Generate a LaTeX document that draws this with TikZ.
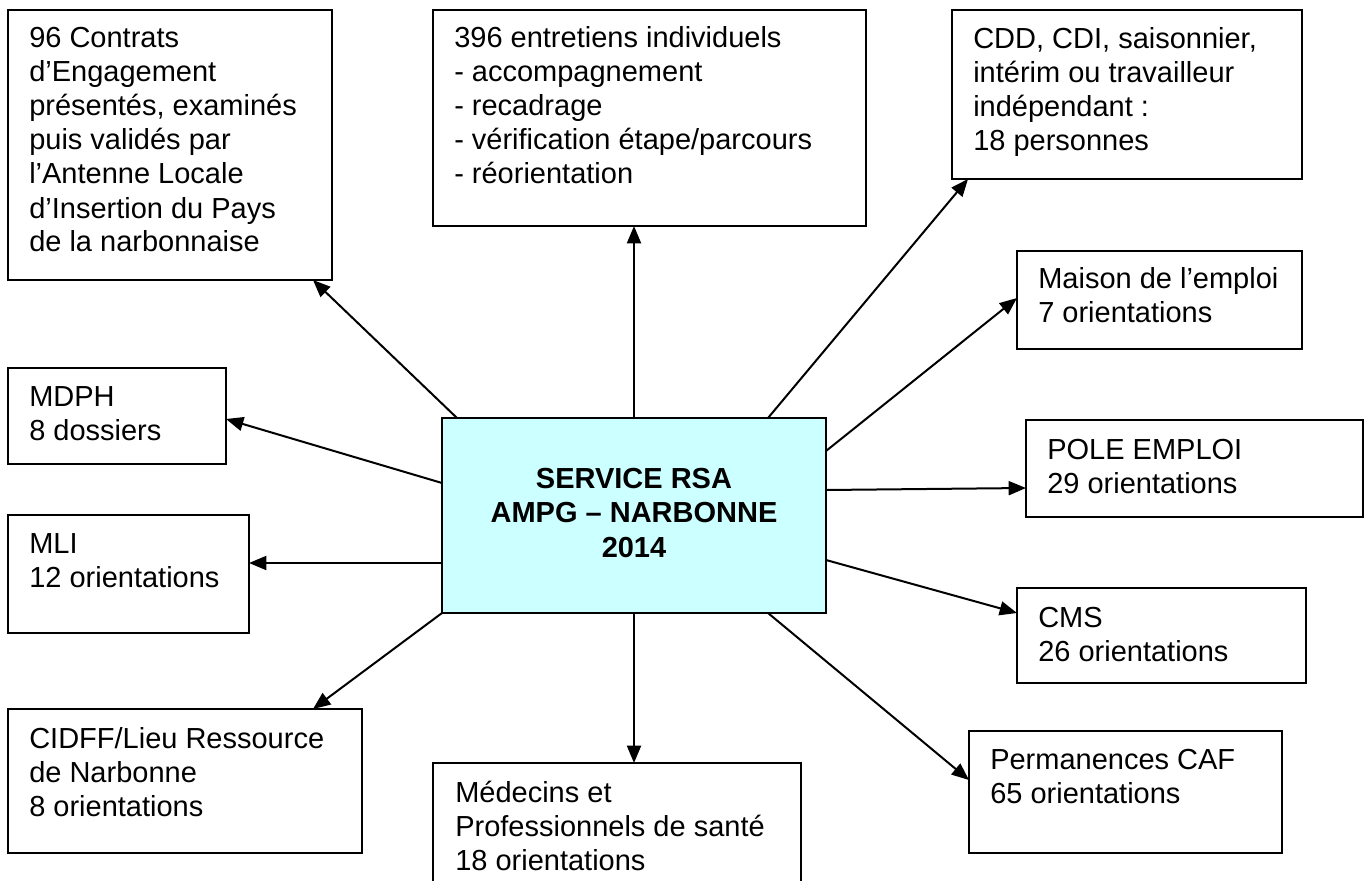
\documentclass[tikz,border=0pt]{standalone}
\usepackage{fontspec}
\setmainfont{Liberation Sans}
\usetikzlibrary{arrows.meta,fit,calc}
\definecolor{cyanbox}{HTML}{CCFFFF}
\begin{document}
\begin{tikzpicture}[x=0.75pt,y=-0.75pt,
  boxst/.style={draw=black, line width=0.9pt, inner sep=0pt, outer sep=0pt},
  txt/.style={font=\fontsize{21.75}{25.5}\selectfont, anchor=base west, inner sep=0pt},
  arr/.style={line width=1.5pt, -{Triangle[length=13pt,width=10.5pt]}}]
\fill[white] (0,0) rectangle (1370,881);
\useasboundingbox (0,0) rectangle (1370,881);

% boxes
\node[boxst, fit={(8,10) (332,280)}] (b1) {};
\node[txt] (t1) at (29,48) {\begin{tabular}[t]{@{}l@{}}96 Contrats\\d’Engagement\\présentés, examinés\\puis validés par\\l’Antenne Locale\\d’Insertion du Pays\\de la narbonnaise\end{tabular}};

\node[boxst, fit={(433,10) (866,226)}] (b2) {};
\node[txt] (t2) at (454,48) {\begin{tabular}[t]{@{}l@{}}396 entretiens individuels\\- accompagnement\\- recadrage\\- vérification étape/parcours\\- réorientation\end{tabular}};

\node[boxst, fit={(952,10) (1302,179)}] (b3) {};
\node[txt] (t3) at (973,49) {\begin{tabular}[t]{@{}l@{}}CDD, CDI, saisonnier,\\intérim ou travailleur\\indépendant :\\18 personnes\end{tabular}};

\node[boxst, fit={(1017,251) (1302,349)}] (b4) {};
\node[txt] (t4) at (1038,288) {\begin{tabular}[t]{@{}l@{}}Maison de l’emploi\\7 orientations\end{tabular}};

\node[boxst, fit={(1026,420) (1363,517)}] (b5) {};
\node[txt] (t5) at (1047,459) {\begin{tabular}[t]{@{}l@{}}POLE EMPLOI\\29 orientations\end{tabular}};

\node[boxst, fit={(1017,588) (1306,683)}] (b6) {};
\node[txt] (t6) at (1038,627) {\begin{tabular}[t]{@{}l@{}}CMS\\26 orientations\end{tabular}};

\node[boxst, fit={(969,731) (1282,853)}] (b7) {};
\node[txt] (t7) at (990,769) {\begin{tabular}[t]{@{}l@{}}Permanences CAF\\65 orientations\end{tabular}};

\begin{scope}
\clip (0,0) rectangle (1370,881);
\node[boxst, fit={(433,763) (801,905)}] (b8) {};
\end{scope}
\node[txt] (t8) at (455,802) {\begin{tabular}[t]{@{}l@{}}Médecins et\\Professionnels de santé\\18 orientations\end{tabular}};

\node[boxst, fit={(8,709) (362,853)}] (b9) {};
\node[txt] (t9) at (29,748) {\begin{tabular}[t]{@{}l@{}}CIDFF/Lieu Ressource\\de Narbonne\\8 orientations\end{tabular}};

\node[boxst, fit={(8,515) (249,633)}] (b10) {};
\node[txt] (t10) at (29,553) {\begin{tabular}[t]{@{}l@{}}MLI\\12 orientations\end{tabular}};

\node[boxst, fit={(8,368) (226,464)}] (b11) {};
\node[txt] (t11) at (29,406) {\begin{tabular}[t]{@{}l@{}}MDPH\\8 dossiers\end{tabular}};

% centre
\node[boxst, fill=cyanbox, fit={(442,418) (826,613)}] (c) {};
\node[inner sep=0pt, anchor=base, font=\fontsize{21.75}{25.9}\selectfont\bfseries] (ct) at (634,488) {\begin{tabular}[t]{@{}c@{}}SERVICE RSA\\AMPG – NARBONNE\\2014\end{tabular}};

% connectors
\draw[arr] ($(c.north west)+(15,0)$) -- ($(b1.south east)+(-19,0)$);
\draw[arr] (c.north) -- ($(b2.south west)+(201,0)$);
\draw[arr] ($(c.north east)+(-58,0)$) -- ($(b3.south west)+(16,0)$);
\draw[arr] ($(c.north east)+(0,33)$) -- ($(b4.north west)+(0,47)$);
\draw[arr] ($(c.north east)+(0,72)$) -- ($(b5.north west)+(0,68)$);
\draw[arr] ($(c.north east)+(0,142)$) -- ($(b6.north west)+(0,25)$);
\draw[arr] ($(c.south east)+(-58,0)$) -- ($(b7.north west)+(0,49)$);
\draw[arr] (c.south) -- ($(b8.north west)+(201,0)$);
\draw[arr] (c.south west) -- ($(b9.north west)+(305,0)$);
\draw[arr] ($(c.north west)+(0,145)$) -- ($(b10.north east)+(0,48)$);
\draw[arr] ($(c.north west)+(0,65)$) -- ($(b11.north east)+(0,51)$);
\end{tikzpicture}
\end{document}
